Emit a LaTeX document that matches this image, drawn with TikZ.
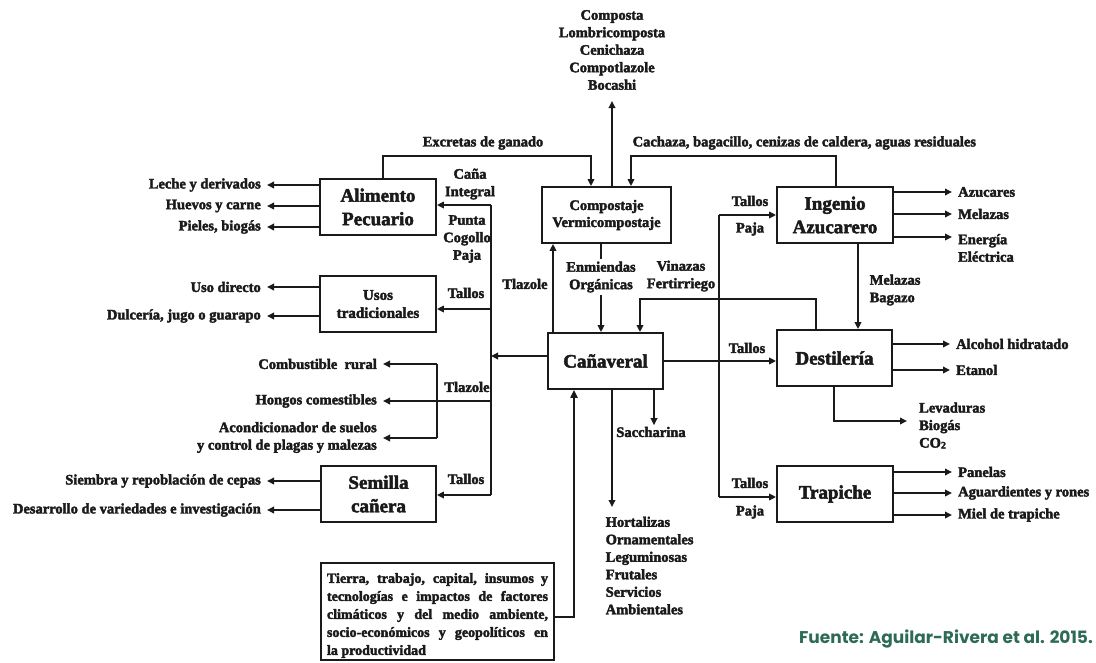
\documentclass[tikz,border=0pt]{standalone}
\usepackage{fontspec}
\setmainfont{Liberation Serif}[BoldFeatures={FakeBold=2.5}]
\newfontfamily\srcfont{Poppins}
\usetikzlibrary{arrows.meta}

\definecolor{ink}{HTML}{1A1A1A}
\definecolor{srcgreen}{HTML}{2E6B57}

\begin{document}
\begin{tikzpicture}[x=1pt,y=-1pt,color=ink,
  box/.style={draw, line width=1.8pt, fill=white, align=center, inner sep=2pt,
    font=\bfseries\fontsize{19}{23.5}\selectfont},
  lbl/.style={align=center, inner sep=1.5pt, font=\bfseries\fontsize{14.5}{17.5}\selectfont},
  outl/.style={lbl, inner xsep=6pt},
  arr/.style={-{Triangle[length=7pt,width=6.5pt]}, line width=2pt},
  ln/.style={line width=2pt},
]
\fill[white] (0,0) rectangle (1096,662);
\useasboundingbox (0,0) rectangle (1096,662);

% ---------------- boxes ----------------
\node[box, minimum width=116pt, minimum height=56pt] (alim) at (378,207) {Alimento\\Pecuario};
\node[box, minimum width=116pt, minimum height=56pt,
      font=\bfseries\fontsize{15}{18}\selectfont] (usos) at (378,304) {Usos\\tradicionales};
\node[box, minimum width=115pt, minimum height=56pt] (semilla) at (378.5,494) {Semilla\\cañera};
\node[box, minimum width=129pt, minimum height=56pt,
      font=\bfseries\fontsize{14.5}{17}\selectfont] (comp) at (606.5,215) {Compostaje\\Vermicompostaje};
\node[box, minimum width=115pt, minimum height=56pt] (cana) at (605.5,361) {Cañaveral};
\node[box, minimum width=116pt, minimum height=56pt] (ingenio) at (835,215) {Ingenio\\Azucarero};
\node[box, minimum width=115pt, minimum height=56pt] (dest) at (834.5,358) {Destilería};
\node[box, minimum width=116pt, minimum height=56pt] (trap) at (835,494) {Trapiche};
\node[box, minimum width=233pt, minimum height=97pt, align=left,
      font=\bfseries\fontsize{14}{18}\selectfont] (fact) at (437.5,611.5)
  {\parbox{221pt}{\vspace*{8pt}%
   \makebox[221pt][s]{Tierra, trabajo, capital, insumos y}\\
   \makebox[221pt][s]{tecnologías e impactos de factores}\\
   \makebox[221pt][s]{climáticos y del medio ambiente,}\\
   \makebox[221pt][s]{socio-económicos y geopolíticos en}\\
   la productividad}};

% ---------------- product labels ----------------
\node[lbl] (compost) at (612,50) {Composta\\Lombricomposta\\Cenichaza\\Compotlazole\\Bocashi};
\coordinate (compostTip) at (612,101);

\node[outl, anchor=east] (leche)  at (267,185) {Leche y derivados};
\node[outl, anchor=east] (huevos) at (267,206) {Huevos y carne};
\node[outl, anchor=east] (pieles) at (267,227) {Pieles, biogás};
\node[outl, anchor=east] (uso)    at (267,287) {Uso directo};
\node[outl, anchor=east] (dulce)  at (267,316) {Dulcería, jugo o guarapo};
\node[outl, anchor=east] (comb)   at (383,364) {Combustible\ \ rural};
\node[outl, anchor=east] (hongos) at (383,401) {Hongos comestibles};
\node[outl, anchor=east, align=right] (acond) at (383,437.5) {Acondicionador de suelos\\y control de plagas y malezas};
\node[outl, anchor=east] (siembra) at (267,481) {Siembra y repoblación de cepas};
\node[outl, anchor=east] (desarr)  at (267,510) {Desarrollo de variedades e investigación};

\node[outl, anchor=west] (azuc)  at (952,192) {Azucares};
\node[outl, anchor=west] (melaz) at (952,214) {Melazas};
\node[outl, anchor=west, align=left] (energ) at (952,248) {Energía\\Eléctrica};
\node[outl, anchor=west] (alcohol) at (950,344) {Alcohol hidratado};
\node[outl, anchor=west] (etanol)  at (950,370) {Etanol};
\node[outl, anchor=west, align=left] (lev) at (913,425.5) {Levaduras\\Biogás\\CO\raisebox{-1pt}{\fontsize{10}{10}\selectfont 2}};
\node[outl, anchor=west] (panelas) at (952,472) {Panelas};
\node[outl, anchor=west] (aguard)  at (952,493) {Aguardientes y rones};
\node[outl, anchor=west] (miel)    at (952,515) {Miel de trapiche};

\node[lbl] (sacch) at (651,432) {Saccharina};
\node[lbl, anchor=north west, align=left] (hort) at (604,515)
  {Hortalizas\\Ornamentales\\Leguminosas\\Frutales\\Servicios\\Ambientales};
\coordinate (hortTip) at (612,507);

% ---------------- flow labels ----------------
\node[lbl] (lExcr) at (483,143) {Excretas de ganado};
\node[lbl, anchor=west] (lCach) at (631,143) {Cachaza, bagacillo, cenizas de caldera, aguas residuales};
\node[lbl] (lCana) at (470,184) {Caña\\Integral};
\node[lbl] (lPunta) at (467,239) {Punta\\Cogollo\\Paja};
\node[lbl] (lTallosU) at (466,293) {Tallos};
\node[lbl] (lTlzC) at (525,284) {Tlazole};
\node[lbl] (lTlzL) at (467,387) {Tlazole};
\node[lbl] (lTallosS) at (466,479) {Tallos};
\node[lbl] (lVin) at (681,276) {Vinazas\\Fertirriego};
\node[lbl] (lTallosI) at (750,201) {Tallos};
\node[lbl] (lPajaI) at (750,229) {Paja};
\node[lbl] (lTallosD) at (747,348) {Tallos};
\node[lbl, anchor=west, align=left] (lMel) at (868,290) {Melazas\\Bagazo};
\node[lbl] (lTallosT) at (750,483) {Tallos};
\node[lbl] (lPajaT) at (750,512) {Paja};

% ---------------- connectors ----------------
% Alimento, usos and semilla outputs
\draw[arr] (alim.west |- leche) -- (leche.east);
\draw[arr] (alim.west |- huevos) -- (huevos.east);
\draw[arr] (alim.west |- pieles) -- (pieles.east);
\draw[arr] (usos.west |- uso) -- (uso.east);
\draw[arr] (usos.west |- dulce) -- (dulce.east);
\draw[arr] (semilla.west |- siembra) -- (siembra.east);
\draw[arr] (semilla.west |- desarr) -- (desarr.east);

% left distribution bus from the cane field
\coordinate (busTop) at (491,205);
\coordinate (busUsos) at (491,309);
\coordinate (busCana) at (491,356);
\coordinate (busTlz) at (491,401);
\coordinate (busBot) at (491,495);
\draw[ln] (busTop) -- (busBot);
\draw[arr] (cana.west |- busCana) -- (busCana);
\draw[arr] (busTop) -- (alim.east |- busTop);
\draw[arr] (busUsos) -- (usos.east |- busUsos);
\draw[arr] (busBot) -- (semilla.east |- busBot);

% tlazole uses
\coordinate (tlzTop) at (437,364);
\coordinate (tlzBot) at (437,438);
\draw[arr] (busTlz) -- (hongos.east |- busTlz);
\draw[ln] (tlzTop) -- (tlzBot);
\draw[arr] (tlzTop) -- (comb.east |- tlzTop);
\draw[arr] (tlzBot) -- (acond.east |- tlzBot);

% residues into composting
\coordinate (exA) at (383,156);
\coordinate (exB) at (591,156);
\draw[arr] (alim.north -| exA) -- (exA) -- (exB) -- (comp.north -| exB);
\coordinate (caA) at (836,156);
\coordinate (caB) at (631,156);
\draw[arr] (ingenio.north -| caA) -- (caA) -- (caB) -- (comp.north -| caB);
\draw[arr] (comp.north -| compostTip) -- (compostTip);
\draw[arr] (cana.north -| 553,0) -- (comp.south -| 553,0);
\draw[arr] (comp.south -| 601,0) -- (cana.north -| 601,0);
\node[lbl, fill=white, inner ysep=3pt] (lEnm) at (601,277) {Enmiendas\\Orgánicas};

% vinasses back to the field
\coordinate (viA) at (816,299);
\coordinate (viB) at (640,299);
\draw[arr] (dest.north -| viA) -- (viA) -- (viB) -- (cana.north -| viB);

% cane to the mill, distillery and trapiche
\draw[arr] (cana.east) -- (dest.west |- cana.east);
\coordinate (tpTop) at (719,215);
\coordinate (tpBot) at (719,497);
\draw[ln] (tpTop) -- (tpBot);
\draw[arr] (tpTop) -- (ingenio.west |- tpTop);
\draw[arr] (tpBot) -- (trap.west |- tpBot);
\draw[arr] (ingenio.south -| 858,0) -- (dest.north -| 858,0);

% mill outputs
\draw[arr] (ingenio.east |- azuc) -- (azuc.west);
\draw[arr] (ingenio.east |- melaz) -- (melaz.west);
\draw[arr] (ingenio.east |- 0,237) -- (energ.west |- 0,237);

% distillery outputs
\draw[arr] (dest.east |- alcohol) -- (alcohol.west);
\draw[arr] (dest.east |- etanol) -- (etanol.west);
\coordinate (dsA) at (834,421);
\draw[arr, shorten >=6pt] (dest.south -| dsA) -- (dsA) -- (lev.west |- dsA);

% trapiche outputs
\draw[arr] (trap.east |- panelas) -- (panelas.west);
\draw[arr] (trap.east |- aguard) -- (aguard.west);
\draw[arr] (trap.east |- miel) -- (miel.west);

% field outputs below
\draw[arr] (cana.south -| 654,0) -- (sacch.north -| 654,0);
\draw[arr] (cana.south -| hortTip) -- (hortTip);

% production factors into the field
\coordinate (fcA) at (574,617);
\draw[-{Triangle[length=8pt,width=7pt]}, line width=2.8pt] (fact.east |- fcA) -- (fcA) -- (cana.south -| fcA);

% source
\node[anchor=east, inner sep=0pt, text=srcgreen, font=\srcfont\bfseries\fontsize{17}{20}\selectfont]
  (src) at (1093,639) {Fuente: Aguilar-Rivera et al. 2015.};
\end{tikzpicture}
\end{document}
